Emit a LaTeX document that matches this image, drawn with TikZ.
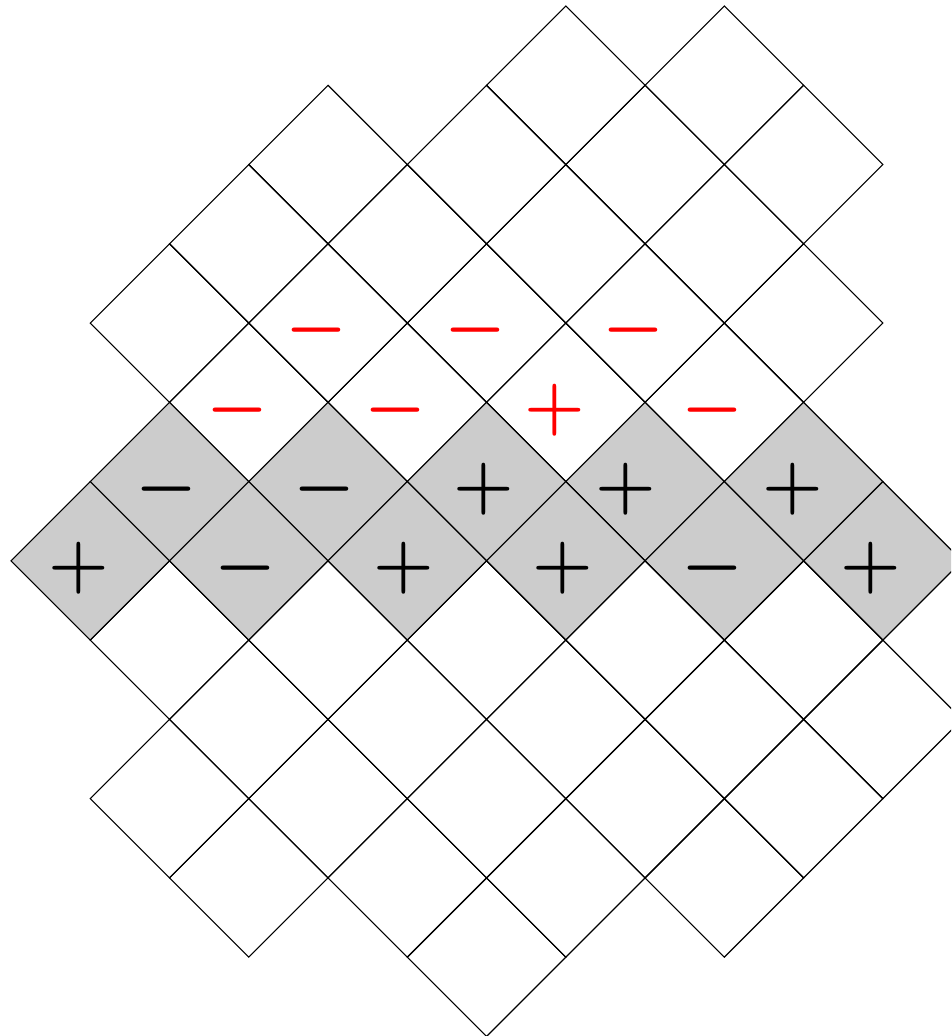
\documentclass[tikz,border=0pt]{standalone}
\begin{document}
\begin{tikzpicture}[line width=0.4pt,
  signo/.style={inner sep=0pt, font=\fontsize{24}{28}\selectfont\boldmath}]
  \clip (-0.139,0.076) rectangle (11.86,-12.995);
  % celdas blancas arriba
  \foreach \i/\j in {7/1,9/1,4/2,6/2,8/2,10/2,3/3,5/3,7/3,9/3,
                     2/4,4/4,6/4,8/4,10/4,3/5,5/5,7/5,9/5}
    \draw (\i-1,-\j) -- (\i,-\j+1) -- (\i+1,-\j) -- (\i,-\j-1) -- cycle;
  % franja gris
  \foreach \i/\j in {2/6,4/6,6/6,8/6,10/6,1/7,3/7,5/7,7/7,9/7,11/7}
    \filldraw[fill=black!20] (\i-1,-\j) -- (\i,-\j+1) -- (\i+1,-\j) -- (\i,-\j-1) -- cycle;
  % celdas blancas abajo
  \foreach \i/\j in {2/8,4/8,6/8,8/8,10/8,3/9,5/9,7/9,9/9,11/9,
                     2/10,4/10,6/10,8/10,10/10,3/11,5/11,7/11,9/11,6/12}
    \draw (\i-1,-\j) -- (\i,-\j+1) -- (\i+1,-\j) -- (\i,-\j-1) -- cycle;
  % signos negros
  \foreach \x/\y/\s [count=\k] in {1.96/-6.09/-,3.96/-6.09/-,5.96/-6.09/+,7.76/-6.09/+,
      9.86/-6.09/+,0.85/-7.09/+,2.96/-7.09/-,4.96/-7.09/+,6.96/-7.09/+,
      8.85/-7.09/-,10.85/-7.09/+}
    \node[signo] (negro\k) at (\x,\y) {$\s$};
  % signos rojos
  \foreach \x/\y/\s [count=\k] in {3.85/-4.09/-,5.86/-4.09/-,7.85/-4.09/-,
      2.86/-5.10/-,4.85/-5.10/-,6.86/-5.10/+,8.85/-5.10/-}
    \node[signo, text=red] (rojo\k) at (\x,\y) {$\s$};
\end{tikzpicture}
\end{document}
